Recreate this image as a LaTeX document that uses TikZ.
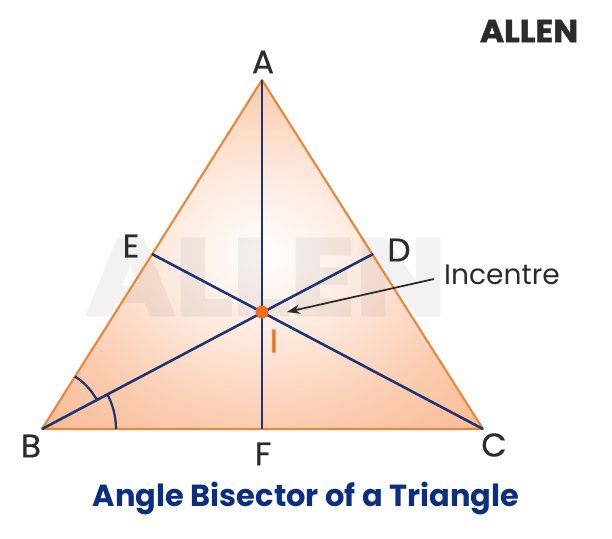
\documentclass[tikz,border=0pt]{standalone}
\usepackage{fontspec}
\setmainfont{Poppins}
\usetikzlibrary{arrows.meta, calc, positioning}

\definecolor{edgeorange}{HTML}{E8873A}
\definecolor{dotorange}{HTML}{EE6F1C}
\definecolor{linenavy}{HTML}{1E3575}
\definecolor{titlenavy}{HTML}{0B2F7E}
\definecolor{inkgrey}{HTML}{2B2B2B}
\definecolor{glowa}{HTML}{FEEBE0}
\definecolor{glowb}{HTML}{FBCBAE}
\definecolor{glowc}{HTML}{F3A678}
\pgfdeclareradialshading{triangleglow}{\pgfpoint{0bp}{0bp}}{%
  color(0bp)=(white);
  color(11bp)=(glowa);
  color(25bp)=(glowb);
  color(50bp)=(glowc)}

\tikzset{
  vertexlabel/.style={text=inkgrey, font=\addfontfeature{FakeBold=0.4}\fontsize{28}{28}\selectfont, inner sep=0pt},
  bisector/.style={draw=linenavy, line width=2.2pt},
  anglearc/.style={draw=linenavy, line width=1.9pt}
}

\begin{document}
\begin{tikzpicture}[>=stealth, x=0.03cm, y=0.03cm]

            \useasboundingbox (0,0) rectangle (612,539);

            \coordinate (A) at (262,459);
            \coordinate (B) at (42,110);
            \coordinate (C) at (483,110);
            \coordinate (D) at (373,285);
            \coordinate (E) at (152,285);
            \coordinate (F) at (262,110);

            % Triangle and watermark
            \path[shading=triangleglow] (A) -- (B) -- (C) -- cycle;
            \begin{scope}[transparency group, opacity=0.05]
              \node[text=black, inner sep=0pt, xscale=1.12, font=\bfseries\addfontfeature{FakeBold=3}\fontsize{92}{92}\selectfont] (mark) at (266,262) {ALLEN};
            \end{scope}
            \draw[edgeorange, line width=1.8pt, line join=round] (A) -- (B) -- (C) -- cycle;

            % Bisectors
            \draw[bisector] (A) -- (F);
            \draw[bisector] (B) -- (D);
            \draw[bisector] (C) -- (E);

            % Angle marks at B
            \draw[anglearc] (B) ++(0:74) arc (0:28:74);
            \draw[anglearc] (B) ++(28:62) arc (28:58:62);

            \node[circle, fill=dotorange, inner sep=0pt, minimum size=11pt] (I) at (262,227) {};

            % Labels
            \node[vertexlabel] (labelA) at (263,477) {A};
            \node[vertexlabel] (labelB) at (31,93) {B};
            \node[vertexlabel] (labelC) at (494,94) {C};
            \node[vertexlabel] (labelD) at (399,289) {D};
            \node[vertexlabel] (labelE) at (131,293) {E};
            \node[vertexlabel] (labelF) at (263,85) {F};
            \node[text=dotorange, inner sep=0pt, font=\addfontfeature{FakeBold=0.8}\fontsize{28}{28}\selectfont] (labelI) at (274,198) {I};
            \node[text=inkgrey, inner sep=0pt, font=\fontsize{24}{24}\selectfont] (incentre) at (502,264) {Incentre};

            \coordinate (tip) at (287,227);
            \draw[-{Stealth[length=11pt, width=8pt]}, inkgrey, line width=1.5pt] ($(incentre.west)+(-10,-4)$) -- (tip);

            \node[text=titlenavy, inner sep=0pt, font=\fontsize{26}{26}\bfseries\selectfont] (title) at (306,41) {Angle Bisector of a Triangle};
            \node[text=inkgrey, inner sep=0pt, xscale=1.04, font=\bfseries\addfontfeature{FakeBold=1.5}\fontsize{27}{27}\selectfont] (logo) at (529,508) {ALLEN};

\end{tikzpicture}
\end{document}
